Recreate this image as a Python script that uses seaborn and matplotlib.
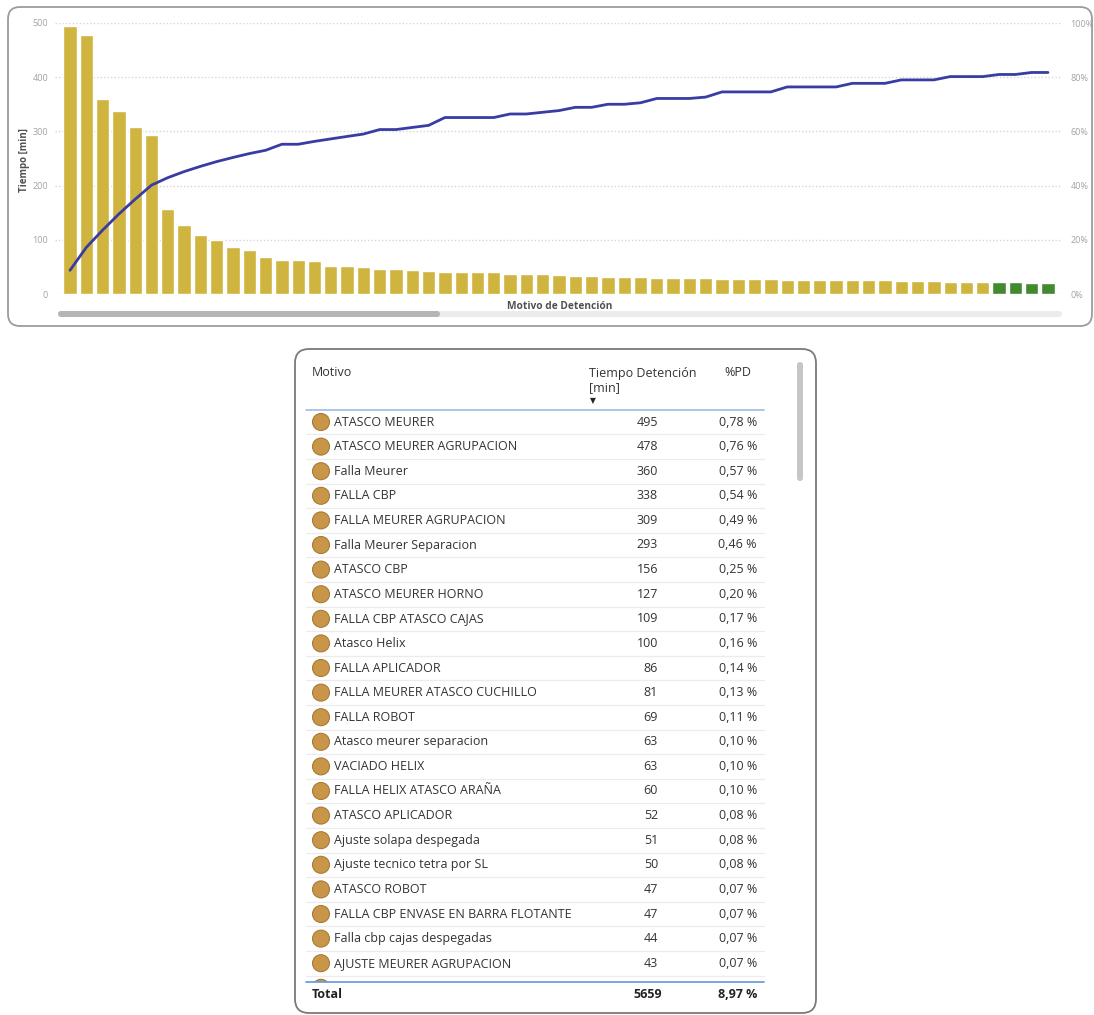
import numpy as np
import pandas as pd
import matplotlib
matplotlib.use("Agg")
import matplotlib.pyplot as plt
import seaborn as sns
from matplotlib.patches import FancyBboxPatch, Circle, Rectangle
from matplotlib.ticker import FuncFormatter

# ---------------- data ----------------
motivos = [
    "ATASCO MEURER", "ATASCO MEURER AGRUPACION", "Falla Meurer", "FALLA CBP",
    "FALLA MEURER AGRUPACION", "Falla Meurer Separacion", "ATASCO CBP",
    "ATASCO MEURER HORNO", "FALLA CBP ATASCO CAJAS", "Atasco Helix",
    "FALLA APLICADOR", "FALLA MEURER ATASCO CUCHILLO", "FALLA ROBOT",
    "Atasco meurer separacion", "VACIADO HELIX", "FALLA HELIX ATASCO ARAÑA",
    "ATASCO APLICADOR", "Ajuste solapa despegada", "Ajuste tecnico tetra por SL",
    "ATASCO ROBOT", "FALLA CBP ENVASE EN BARRA FLOTANTE",
    "Falla cbp cajas despegadas", "AJUSTE MEURER AGRUPACION",
]
tiempo = [495, 478, 360, 338, 309, 293, 156, 127, 109, 100, 86, 81, 69, 63, 63,
          60, 52, 51, 50, 47, 47, 44, 43,
          41, 41, 41, 41, 37, 37, 36, 35, 34, 34, 32, 32, 31, 30, 30, 30, 29,
          27, 27, 27, 27, 26, 26, 26, 26, 25, 25, 25, 24, 24, 24, 23, 23, 23,
          22, 22, 21, 21]
grupo = ["amarillo"] * 57 + ["verde"] * 4
pct_pd = [0.78, 0.76, 0.57, 0.54, 0.49, 0.46, 0.25, 0.20, 0.17, 0.16, 0.14,
          0.13, 0.11, 0.10, 0.10, 0.10, 0.08, 0.08, 0.08, 0.07, 0.07, 0.07, 0.07]
total_tiempo = 5659
total_pd = 8.97

yticks_left = [0, 100, 200, 300, 400, 500]
yticks_right = [0, 20, 40, 60, 80, 100]

# ---------------- style ----------------
W, H = 1094, 1015
sns.set_theme(style="white")
plt.rcParams["font.family"] = ["Open Sans", "DejaVu Sans"]

YELLOW = "#D0B440"
GREEN = "#418A2F"
LINE = "#393CA2"
GRID = "#d6d6d6"
TICK = "#a3a3a3"
TXT = "#333333"

fig = plt.figure(figsize=(W / 100, H / 100), dpi=100)
fig.patch.set_facecolor("white")

# background canvas in pixel coordinates
bg = fig.add_axes([0, 0, 1, 1], zorder=0)
bg.set_xlim(0, W)
bg.set_ylim(H, 0)
bg.axis("off")

def rbox(x0, y0, x1, y1, r, **kw):
    p = FancyBboxPatch((x0, y0), x1 - x0, y1 - y0,
                       boxstyle=f"round,pad=0,rounding_size={r}", **kw)
    bg.add_patch(p)
    return p

# panels
rbox(8, 7, 1092, 326, 12, fc="white", ec="#9c9c9c", lw=1.3)
rbox(295, 349, 816, 1013, 14, fc="white", ec="#7a7a7a", lw=1.3)

# chart scrollbar
rbox(58, 311, 1062, 317, 3, fc="#ececec", ec="none")
rbox(58, 311, 440, 317, 3, fc="#b5b5b5", ec="none")

# ---------------- pareto chart ----------------
ax_l, ax_r, ax_t, ax_b = 55, 1062, 23, 294
ax = fig.add_axes([ax_l / W, 1 - ax_b / H, (ax_r - ax_l) / W, (ax_b - ax_t) / H],
                  zorder=2)
ax.patch.set_alpha(0)

df = pd.DataFrame({"rank": np.arange(len(tiempo)), "tiempo": tiempo, "grupo": grupo})
tiempo_arr = np.array(tiempo, dtype=float)
df["acum"] = [tiempo_arr[tiempo_arr >= v].sum() / total_tiempo * 100 for v in tiempo_arr]

sns.barplot(data=df, x="rank", y="tiempo", hue="grupo",
            palette={"amarillo": YELLOW, "verde": GREEN},
            dodge=False, width=0.82, saturation=1, legend=False, ax=ax, zorder=2)

ax.set_ylim(0, 500)
ax.set_yticks(yticks_left)
ax.yaxis.grid(True, linestyle=(0, (1, 1.5)), color=GRID, linewidth=1.0)
ax.set_axisbelow(True)
ax.set_xticks([])
for s in ax.spines.values():
    s.set_visible(False)
ax.tick_params(axis="y", length=0, labelsize=6.5, labelcolor=TICK, pad=5)
ax.set_ylabel("Tiempo [min]", fontsize=7, color="#505050", fontweight="bold")
ax.yaxis.set_label_coords((30 - ax_l) / (ax_r - ax_l), (ax_b - 160) / (ax_b - ax_t))
ax.set_xlabel("Motivo de Detención", fontsize=7.3, color="#505050", fontweight="bold")
ax.xaxis.set_label_coords((560 - ax_l) / (ax_r - ax_l), -(301 - ax_b) / (ax_b - ax_t))

ax2 = ax.twinx()
sns.lineplot(x=df["rank"].values, y=df["acum"].values, ax=ax2, color=LINE,
             linewidth=2.0, zorder=3)
ax2.set_ylim(0, 100)
ax2.set_yticks(yticks_right)
ax2.yaxis.set_major_formatter(FuncFormatter(lambda v, p: f"{v:.0f}%"))
ax2.tick_params(axis="y", length=0, labelsize=6.5, labelcolor=TICK, pad=6)
ax2.grid(False)
for s in ax2.spines.values():
    s.set_visible(False)
ax.set_xlim(-0.92, 60.86)

# ---------------- table ----------------
tfs = 9.0
bg.text(312, 373, "Motivo", fontsize=tfs, color=TXT, va="center", ha="left")
bg.text(589, 373, "Tiempo Detención", fontsize=tfs, color=TXT, va="center", ha="left")
bg.text(589, 388, "[min]", fontsize=tfs, color=TXT, va="center", ha="left")
bg.text(593, 401, "▼", fontsize=5.5, color="#222222", va="center", ha="center",
        family=["DejaVu Sans"])
bg.text(738, 373, "%PD", fontsize=tfs, color=TXT, va="center", ha="center")
bg.plot([306, 764], [409.5, 409.5], color="#9dbbe6", lw=1.2)

row0, pitch = 422, 24.6
for k, (name, val, pd_) in enumerate(zip(motivos, tiempo, pct_pd)):
    y = row0 + pitch * k
    bg.add_patch(Circle((321, y), 8.5, fc="#C99649", ec="#A77B35", lw=0.8))
    bg.text(334, y, name, fontsize=tfs, color=TXT, va="center", ha="left")
    bg.text(658, y, f"{val}", fontsize=tfs, color=TXT, va="center", ha="right")
    bg.text(757, y, f"{pd_:.2f}".replace(".", ",") + " %", fontsize=tfs,
            color=TXT, va="center", ha="right")
    bg.plot([306, 764], [y + pitch / 2, y + pitch / 2], color="#ececec", lw=0.9)

# partially visible next row
clip = Rectangle((300, 970), 470, 11.5, transform=bg.transData)
c = Circle((321, row0 + pitch * len(motivos)), 8.5, fc="#C99649", ec="#A77B35", lw=0.8)
bg.add_patch(c)
c.set_clip_path(clip)

bg.plot([306, 764], [982, 982], color="#6f9de0", lw=1.3)
bg.text(312, 995, "Total", fontsize=tfs, color="#222222", va="center", ha="left",
        fontweight="bold")
bg.text(662, 995, f"{total_tiempo}", fontsize=tfs, color="#222222", va="center",
        ha="right", fontweight="bold")
bg.text(757, 995, f"{total_pd:.2f}".replace(".", ",") + " %", fontsize=tfs,
        color="#222222", va="center", ha="right", fontweight="bold")

# table scrollbar
rbox(797, 362, 803, 481, 3, fc="#c6c6c6", ec="none")

fig.savefig("out.png", dpi=100, facecolor="white")
